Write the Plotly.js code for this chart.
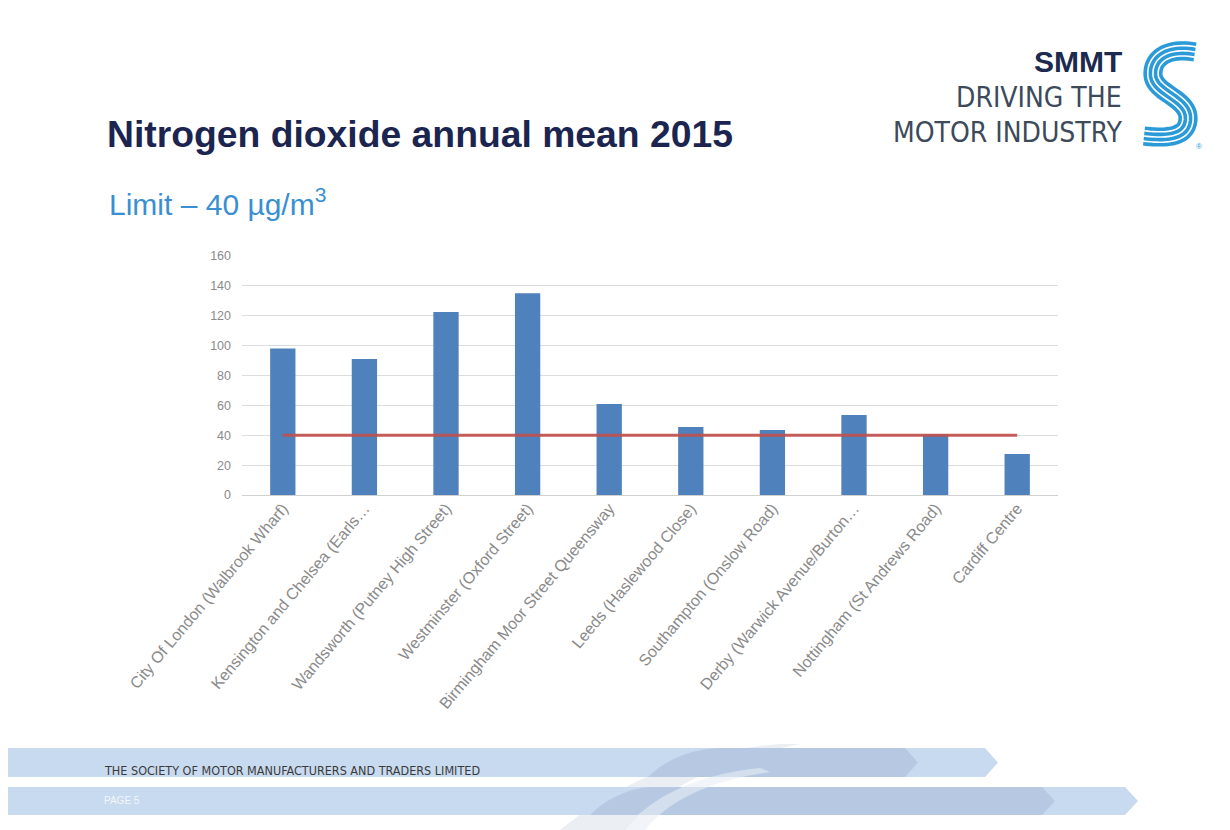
<!DOCTYPE html>
<html>
<head>
<meta charset="utf-8">
<script src="https://cdn.plot.ly/plotly-3.0.1.min.js"></script>
<style>
html,body{margin:0;padding:0;background:#fff;}
#chart{width:1230px;height:830px;}
</style>
</head>
<body>
<div id="chart"></div>
<script>
// ---- data ----
const sites = [
  "City Of London (Walbrook Wharf)",
  "Kensington and Chelsea (Earls…",
  "Wandsworth (Putney High Street)",
  "Westminster (Oxford Street)",
  "Birmingham Moor Street Queensway",
  "Leeds (Haslewood Close)",
  "Southampton (Onslow Road)",
  "Derby (Warwick Avenue/Burton…",
  "Nottingham (St Andrews Road)",
  "Cardiff Centre"
];
const no2Mean = [98, 91, 122.5, 135, 61, 45.5, 43.5, 53.5, 40.5, 27.5];
const limitValue = [40, 40, 40, 40, 40, 40, 40, 40, 40, 40];
const yTicks = [0, 20, 40, 60, 80, 100, 120, 140, 160];

// ---- geometry helpers (pixel -> paper) ----
const L = 242, R = 1058, T = 256, B = 495;
const W = R - L, H = B - T;
const X = px => (px - L) / W;
const Y = py => (B - py) / H;
function poly(pts, close) {
  let s = pts.map((p, i) => (i ? 'L' : 'M') + X(p[0]).toFixed(5) + ',' + Y(p[1]).toFixed(5)).join(' ');
  return close ? s + ' Z' : s;
}
function bez(p0, p1, p2, p3, n) {
  const out = [];
  for (let i = 0; i <= n; i++) {
    const t = i / n, u = 1 - t;
    out.push([
      u*u*u*p0[0] + 3*u*u*t*p1[0] + 3*u*t*t*p2[0] + t*t*t*p3[0],
      u*u*u*p0[1] + 3*u*u*t*p1[1] + 3*u*t*t*p2[1] + t*t*t*p3[1]
    ]);
  }
  return out;
}
function offsetLine(pts, d) {
  return pts.map((p, i) => {
    const a = pts[Math.max(0, i - 1)], b = pts[Math.min(pts.length - 1, i + 1)];
    const dx = b[0] - a[0], dy = b[1] - a[1];
    const len = Math.hypot(dx, dy) || 1;
    return [p[0] - dy / len * d, p[1] + dx / len * d];
  });
}

// S logo centerline
let sLine = [];
sLine = sLine.concat(bez([1195,52],[1168,47],[1152,58],[1153,75],24));
sLine = sLine.concat(bez([1153,75],[1154,93],[1188,98],[1188,118],24).slice(1));
sLine = sLine.concat(bez([1188,118],[1188,136],[1170,139],[1144,136],24).slice(1));

const shapes = [];
// footer swoosh (behind)
shapes.push({type:'path', xref:'paper', yref:'paper', layer:'above', line:{width:0},
  fillcolor:'rgba(215,222,232,0.5)',
  path: poly([].concat(bez([560,830],[610,790],[680,752],[780,744],20),
                       bez([800,744],[720,760],[660,790],[625,830],20)), true)});
// band 1 light
shapes.push({type:'path', xref:'paper', yref:'paper', layer:'above', line:{width:0},
  fillcolor:'rgb(200,218,240)',
  path: poly([[8,748],[985,748],[998,762.5],[985,777],[8,777]], true)});
// band 1 dark
shapes.push({type:'path', xref:'paper', yref:'paper', layer:'above', line:{width:0},
  fillcolor:'rgb(183,201,226)',
  path: poly([].concat(bez([648,777],[665,760],[690,749],[720,748],10),[[905,748],[918,762.5],[905,777]]), true)});
// band 2 light
shapes.push({type:'path', xref:'paper', yref:'paper', layer:'above', line:{width:0},
  fillcolor:'rgb(200,218,240)',
  path: poly([[8,787],[1125,787],[1138,801],[1125,815],[8,815]], true)});
// band 2 dark
shapes.push({type:'path', xref:'paper', yref:'paper', layer:'above', line:{width:0},
  fillcolor:'rgb(183,201,226)',
  path: poly([].concat(bez([590,815],[605,800],[625,789],[650,787],10),[[1042,787],[1055,801],[1042,815]]), true)});
// swoosh light stripe across bands
shapes.push({type:'path', xref:'paper', yref:'paper', layer:'above', line:{width:0},
  fillcolor:'rgba(232,238,246,0.6)',
  path: poly([].concat(bez([622,830],[650,800],[690,775],[760,768],16),
                       bez([770,772],[700,782],[665,805],[645,830],16)), true)});
// S logo stripes
[-7.8, -2.6, 2.6, 7.8].forEach(d => {
  shapes.push({type:'path', xref:'paper', yref:'paper', layer:'above',
    line:{color:'#2a9ad8', width:3.6}, path: poly(offsetLine(sLine, d), false)});
});

const ann = (px, py, text, size, color, opts) => Object.assign({
  xref:'paper', yref:'paper', x:X(px), y:Y(py), text:text, showarrow:false,
  xanchor:'left', yanchor:'middle',
  font:{family:'Liberation Sans, Arial, sans-serif', size:size, color:color}
}, opts || {});

const narrow = 'Liberation Sans Narrow, DejaVu Sans Condensed, Roboto Condensed, Arial Narrow, sans-serif';
const annotations = [
  ann(107, 202, 'Limit – 40 µg/m<sup>3</sup>', 30, '#3a8fd2'),
  ann(1124, 61, '<b>SMMT</b>', 30, '#1b2a4e', {xanchor:'right'}),
  ann(1124, 97, 'DRIVING THE', 28, '#3c4a5c', {xanchor:'right', font:{family:narrow, size:28, color:'#3c4a5c'}}),
  ann(1124, 132, 'MOTOR INDUSTRY', 28, '#3c4a5c', {xanchor:'right', font:{family:narrow, size:28, color:'#3c4a5c'}}),
  ann(1199, 146, '®', 8, '#2a9ad8', {xanchor:'center'}),
  ann(102, 770, 'THE SOCIETY OF MOTOR MANUFACTURERS AND TRADERS LIMITED', 12.5, '#3a3a3a',
      {font:{family:narrow, size:12.5, color:'#3a3a3a'}}),
  ann(102, 801, 'PAGE 5', 10, '#f2f6fb')
];

const traces = [
  {type:'bar', x:sites, y:no2Mean, marker:{color:'#4f81bd'}, hoverinfo:'x+y', name:'NO2'},
  {type:'scatter', mode:'lines', x:sites, y:limitValue, line:{color:'rgba(192,80,77,0.92)', width:3.2}, name:'Limit'}
];

const layout = {
  width:1230, height:830,
  paper_bgcolor:'#ffffff', plot_bgcolor:'#ffffff',
  margin:{l:L, r:1230-R, t:T, b:830-B, pad:0},
  showlegend:false,
  bargap:0.69,
  title:{text:'<b>Nitrogen dioxide annual mean 2015</b>', xref:'container', yref:'container',
         x:107/1230, xanchor:'left', y:1-134/830, yanchor:'middle',
         font:{family:'Liberation Sans, Arial, sans-serif', size:37.3, color:'#1b2550'}},
  xaxis:{type:'category', tickangle:-50, showgrid:false, showline:false, zeroline:false, ticks:'',
         tickfont:{family:'Liberation Sans, Arial, sans-serif', size:16, color:'#8a8a8a'}, automargin:false},
  yaxis:{range:[0,160], tickvals:yTicks, ticktext:yTicks.map(String), showgrid:true, gridcolor:'#dcdcdc', gridwidth:1,
         zeroline:true, zerolinecolor:'#d0d0d0', zerolinewidth:1, showline:false, ticks:'', ticklabelstandoff:10,
         tickfont:{family:'Liberation Sans, Arial, sans-serif', size:12.5, color:'#8a8a8a'}, automargin:false},
  shapes:shapes,
  annotations:annotations
};

Plotly.newPlot('chart', traces, layout, {displayModeBar:false, staticPlot:true});
</script>
</body>
</html>
